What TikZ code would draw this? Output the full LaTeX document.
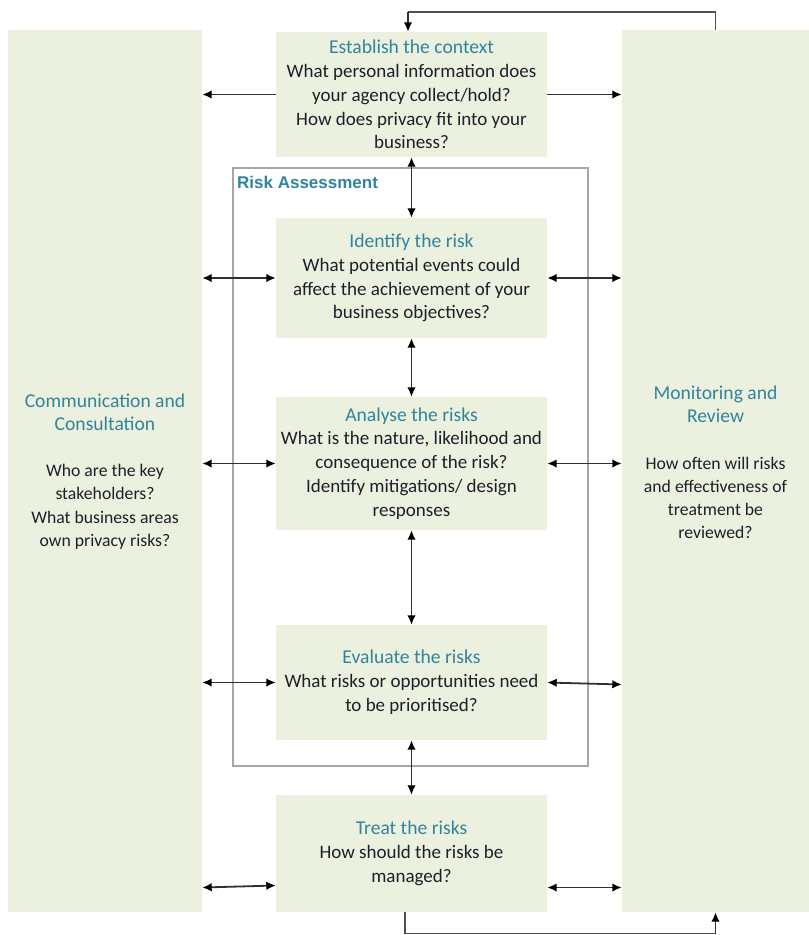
\documentclass[tikz,border=0pt]{standalone}
\usepackage{fontspec}
\setmainfont{Carlito}
\newfontfamily\labelfont{Liberation Sans}
\usetikzlibrary{arrows.meta}
\definecolor{boxfill}{HTML}{EBF1DE}
\definecolor{ttl}{HTML}{31849B}
\definecolor{txt}{HTML}{1F1F2A}
\definecolor{frm}{HTML}{A6A6A6}
\definecolor{loopc}{HTML}{505050}
\definecolor{linec}{HTML}{303030}
\newcommand{\ttlbox}[1]{{\color{ttl}\fontsize{19.6}{23.8}\selectfont #1}}
\newcommand{\ttlpan}[1]{{\color{ttl}\fontsize{19.6}{22.5}\selectfont #1}}
\begin{document}
\begin{tikzpicture}[x=1pt,y=-1pt,
  box/.style={fill=boxfill, inner sep=0pt, align=center, text=txt,
    font=\fontsize{19}{23.8}\selectfont, minimum width=271pt},
  panel/.style={fill=boxfill, inner sep=0pt},
  ptext/.style={align=center, text=txt, inner sep=0pt,
    font=\fontsize{17.7}{23.2}\selectfont},
  tip/.tip={Latex[length=9.5pt,width=8.5pt,color=black]},
  conn/.style={tip-tip, line width=1.8pt, linec},
  oneway/.style={-tip, line width=1.8pt, linec},
  loopline/.style={line width=1.8pt, loopc}]
\useasboundingbox (0,0) rectangle (809,935);
% side panels
\node[panel, minimum width=194pt, minimum height=882pt] (comm) at (105,471) {};
\node[panel, minimum width=187pt, minimum height=882pt] (mon) at (715.5,471) {};
\node[ptext] (commtext) at (105,471.5) {\ttlpan{Communication and}\\\ttlpan{Consultation}\\[23pt]Who are the key\\stakeholders?\\What business areas\\own privacy risks?};
\node[ptext] (montext) at (715.5,462.5) {\ttlpan{Monitoring and}\\\ttlpan{Review}\\[23pt]How often will risks\\and effectiveness of\\treatment be\\reviewed?};
% risk assessment frame
\node[draw=frm, line width=1.3pt, minimum width=355pt, minimum height=598pt, inner sep=0pt] (ra) at (410.5,467) {};
\node[anchor=north west, inner sep=0pt, text=ttl, font=\labelfont\fontsize{17}{18}\selectfont\bfseries] (ralabel) at (237,175.5) {Risk Assessment};
% process boxes
\node[box, minimum height=125pt] (ctx) at (411.5,94.5) {\ttlbox{Establish the context}\\What personal information does\\your agency collect/hold?\\How does privacy fit into your\\business?};
\node[box, minimum height=120pt] (ident) at (411.5,278) {\ttlbox{Identify the risk}\\What potential events could\\affect the achievement of your\\business objectives?};
\node[box, minimum height=133pt] (analyse) at (411.5,463.5) {\ttlbox{Analyse the risks}\\What is the nature, likelihood and\\consequence of the risk?\\Identify mitigations/ design\\responses};
\node[box, minimum height=115pt] (eval) at (411.5,682.5) {\ttlbox{Evaluate the risks}\\What risks or opportunities need\\to be prioritised?};
\node[box, minimum height=117pt] (treat) at (411.5,853.5) {\ttlbox{Treat the risks}\\How should the risks be\\managed?};
% coordinates for the feedback loops
\coordinate (tl) at (408,12);
\coordinate (bl) at (405,933.5);
% connectors
\draw[oneway] (ctx.west) -- (comm.east |- ctx.west);
\draw[oneway] (ctx.east) -- (mon.west |- ctx.east);
\draw[conn] (ctx.south) -- (ident.north);
\draw[conn] (ident.south) -- (analyse.north);
\draw[conn] (analyse.south) -- (eval.north);
\draw[conn] (eval.south) -- (treat.north);
\draw[conn] (comm.east |- ident.west) -- (ident.west);
\draw[conn] (ident.east) -- (mon.west |- ident.east);
\draw[conn] (comm.east |- analyse.west) -- (analyse.west);
\draw[conn] (analyse.east) -- (mon.west |- analyse.east);
\draw[conn] (comm.east |- eval.west) -- (eval.west);
\draw[conn] (eval.east) -- ([yshift=-2pt]mon.west |- eval.east);
\draw[conn] ([yshift=-34pt]comm.east |- treat.west) -- ([yshift=-32pt]treat.west);
\draw[conn] ([yshift=-34pt]treat.east) -- ([yshift=-34pt]mon.west |- treat.east);
% feedback loops
\draw[loopline] (mon.north) -- (mon.north |- tl) -- (tl);
\draw[oneway] (tl) -- (ctx.north -| tl);
\draw[loopline] (treat.south -| bl) -- (bl) -- (mon.south |- bl);
\draw[oneway] (mon.south |- bl) -- (mon.south);
\end{tikzpicture}
\end{document}
